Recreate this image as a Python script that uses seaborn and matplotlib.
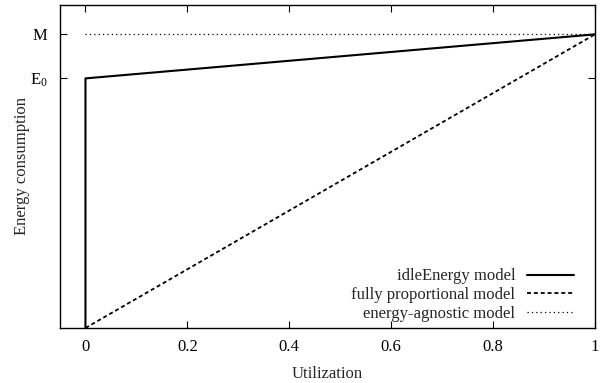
import matplotlib
matplotlib.use("Agg")
import matplotlib.pyplot as plt
import seaborn as sns
import pandas as pd

sns.set_style("ticks")
plt.rcParams['font.family'] = ['Liberation Serif', 'DejaVu Serif']
plt.rcParams['mathtext.fontset'] = 'custom'
plt.rcParams['mathtext.rm'] = 'Liberation Serif'
plt.rcParams['mathtext.it'] = 'Liberation Serif:italic'

E0 = 0.85
M = 1.0
idle_x = [0, 0, 1]
idle_y = [0, E0, M]
prop_x = [0, 1]
prop_y = [0, M]
agn_x = [0, 1]
agn_y = [M, M]
xticks = [0, 0.2, 0.4, 0.6, 0.8, 1]
xticklabels = ["0", "0.2", "0.4", "0.6", "0.8", "1"]
yticks = [E0, M]
yticklabels = ["E$_\\mathrm{0}$", "M"]

FS = 12

fig = plt.figure(figsize=(6.14, 3.83), dpi=100)
ax = fig.add_axes([0.0977, 0.1436, 0.8713, 0.8434])

sns.lineplot(x=idle_x, y=idle_y, sort=False, estimator=None, ax=ax,
             color="black", lw=1.5, label="idleEnergy model")
sns.lineplot(x=prop_x, y=prop_y, sort=False, estimator=None, ax=ax,
             color="black", lw=1.3, linestyle=(0, (2.2, 1.6)), label="fully proportional model")
sns.lineplot(x=agn_x, y=agn_y, sort=False, estimator=None, ax=ax,
             color="black", lw=0.9, linestyle=(0, (1, 2.5)), label="energy-agnostic model")

ax.set_xlim(-0.05, 1.0)
ax.set_ylim(0, 1.1)
ax.set_xticks(xticks)
ax.set_xticklabels(xticklabels)
ax.set_yticks(yticks)
ax.set_yticklabels(yticklabels)
ax.tick_params(direction="in", length=5, width=0.8, top=True, right=True,
               labelsize=FS, colors="black")
ax.tick_params(axis="x", pad=8)
ax.tick_params(axis="y", pad=9)
for s in ax.spines.values():
    s.set_visible(True)
    s.set_linewidth(1.0)
    s.set_color("black")
ax.set_xlabel("Utilization", fontsize=FS, labelpad=8)
ax.set_ylabel("Energy consumption", fontsize=FS, labelpad=0)

ax.legend(loc="lower right", frameon=False, markerfirst=False, fontsize=FS,
          handlelength=2.8, labelspacing=0.17, borderaxespad=0.3, handletextpad=0.7,
          bbox_to_anchor=(0.982, -0.018))

fig.savefig("out.png", dpi=100)
